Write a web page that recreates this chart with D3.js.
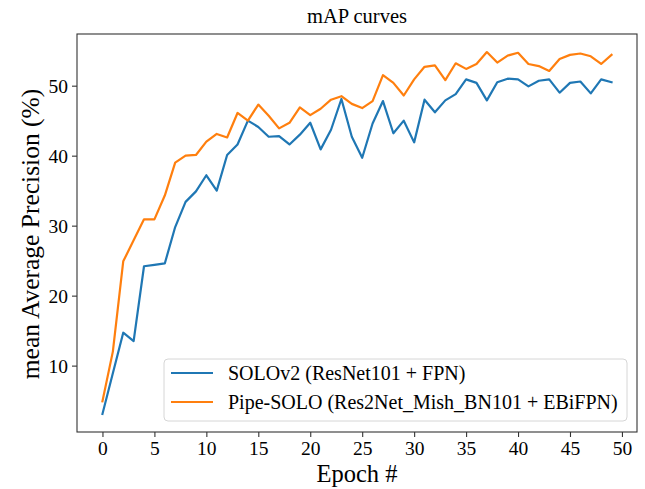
<!DOCTYPE html>
<html>
<head>
<meta charset="utf-8">
<script src="https://cdn.jsdelivr.net/npm/d3@7"></script>
<style>
  body { margin: 0; background: #fff; }
  svg { display: block; }
  text { font-family: "Liberation Serif", "Times New Roman", serif; fill: #000; }
</style>
</head>
<body>
<svg id="chart" width="645" height="489"></svg>
<script>
const epochs = [0,1,2,3,4,5,6,7,8,9,10,11,12,13,14,15,16,17,18,19,20,21,22,23,24,25,26,27,28,29,30,31,32,33,34,35,36,37,38,39,40,41,42,43,44,45,46,47,48,49];
const soloV2 = [3.1, 8.9, 14.7, 13.5, 24.2, 24.4, 24.6, 29.8, 33.4, 34.9,
                37.2, 35.0, 40.1, 41.6, 45.0, 44.1, 42.7, 42.8, 41.6, 43.0,
                44.7, 40.9, 43.7, 48.1, 42.7, 39.7, 44.6, 47.8, 43.2, 45.0,
                41.9, 48.0, 46.2, 47.9, 48.8, 50.9, 50.4, 47.9, 50.5, 51.0,
                50.9, 49.9, 50.7, 50.9, 49.0, 50.4, 50.6, 48.9, 50.9, 50.5];
const pipeSolo = [4.9, 12.0, 24.9, 27.9, 30.9, 30.9, 34.3, 39.0, 40.0, 40.1,
                  42.0, 43.1, 42.6, 46.1, 45.0, 47.3, 45.7, 43.9, 44.7, 46.9,
                  45.8, 46.7, 48.0, 48.5, 47.4, 46.8, 47.8, 51.5, 50.4, 48.6,
                  50.9, 52.7, 52.9, 50.8, 53.2, 52.4, 53.1, 54.8, 53.3, 54.3,
                  54.7, 53.1, 52.8, 52.1, 53.8, 54.4, 54.6, 54.2, 53.1, 54.4];
const seriesNames = ["SOLOv2 (ResNet101 + FPN)", "Pipe-SOLO (Res2Net_Mish_BN101 + EBiFPN)"];
const seriesColors = ["#1f77b4", "#ff7f0e"];
const xTicks = [0,5,10,15,20,25,30,35,40,45,50];
const yTicks = [10,20,30,40,50];
const titleText = "mAP curves";
const xLabel = "Epoch #";
const yLabel = "mean Average Precision (%)";

const svg = d3.select("#chart");
const L = 77, R = 637, T = 34, B = 432;

const xMin = d3.min(epochs), xMax = d3.max(epochs);
const xPad = (xMax - xMin) * 0.05;
const x = d3.scaleLinear().domain([xMin - xPad, xMax + xPad]).range([L, R]);
const allY = soloV2.concat(pipeSolo);
const yMin = d3.min(allY), yMax = d3.max(allY);
const yPad = (yMax - yMin) * 0.05;
const y = d3.scaleLinear().domain([yMin - yPad, yMax + yPad]).range([B, T]);

const line = d3.line().x((d, i) => x(epochs[i])).y(d => y(d));

[soloV2, pipeSolo].forEach((s, k) => {
  svg.append("path").datum(s)
    .attr("d", line)
    .attr("fill", "none")
    .attr("stroke", seriesColors[k])
    .attr("stroke-width", 2.2)
    .attr("stroke-linejoin", "round")
    .attr("stroke-linecap", "square");
});

// axes
const xAxis = d3.axisBottom(x).tickValues(xTicks).tickSize(5).tickPadding(3).tickFormat(d3.format("d"));
const yAxis = d3.axisLeft(y).tickValues(yTicks).tickSize(5).tickPadding(4).tickFormat(d3.format("d"));

const gx = svg.append("g").attr("transform", `translate(0,${B})`).call(xAxis);
const gy = svg.append("g").attr("transform", `translate(${L},0)`).call(yAxis);
[gx, gy].forEach(g => {
  g.select(".domain").remove();
  g.selectAll(".tick line").attr("stroke", "#333").attr("stroke-width", 1.1);
  g.selectAll(".tick text").style("font-family", '"Liberation Serif", serif').style("font-size", "19.5px").attr("fill", "#000");
});
gx.selectAll(".tick text").attr("dy", "0.78em");
gy.selectAll(".tick text").attr("dy", "0.34em");

// frame
svg.append("rect").attr("x", L).attr("y", T).attr("width", R - L).attr("height", B - T)
  .attr("fill", "none").attr("stroke", "#333").attr("stroke-width", 1.1);

// title & labels
svg.append("text").attr("x", (L + R) / 2).attr("y", 22.5).attr("text-anchor", "middle")
  .style("font-size", "20.5px").text(titleText);
svg.append("text").attr("x", (L + R) / 2).attr("y", 482).attr("text-anchor", "middle")
  .style("font-size", "24.5px").text(xLabel);
svg.append("text").attr("transform", `translate(39,234) rotate(-90)`).attr("text-anchor", "middle")
  .style("font-size", "25.5px").text(yLabel);

// legend
const lg = svg.append("g");
lg.append("rect").attr("x", 164).attr("y", 359).attr("width", 463).attr("height", 62)
  .attr("rx", 4).attr("fill", "#fff").attr("fill-opacity", 0.8)
  .attr("stroke", "#d6d6d6").attr("stroke-width", 1);
seriesNames.forEach((n, k) => {
  const yy = 373 + k * 29;
  lg.append("line").attr("x1", 171).attr("x2", 213).attr("y1", yy).attr("y2", yy)
    .attr("stroke", seriesColors[k]).attr("stroke-width", 2.2);
  lg.append("text").attr("x", 228).attr("y", yy + 7).style("font-size", "20px").text(n);
});
</script>
</body>
</html>
